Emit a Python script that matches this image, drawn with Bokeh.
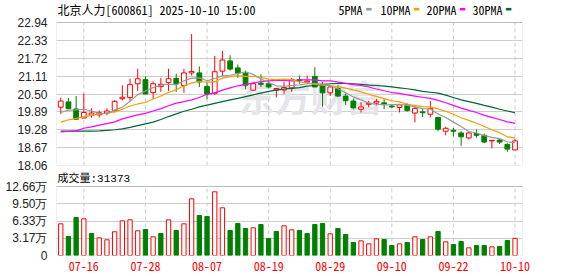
from bokeh.plotting import figure
from bokeh.models import (ColumnDataSource, FixedTicker, Label, Range1d, NumeralTickFormatter,
                          CustomJSTickFormatter, BoxAnnotation)
from bokeh.layouts import column
from bokeh.embed import file_html
from bokeh.resources import INLINE

# ---------------- data ----------------
dates = ["07-11", "07-14", "07-15", "07-16", "07-17", "07-18", "07-21", "07-22", "07-23", "07-24",
         "07-25", "07-28", "07-29", "07-30", "07-31", "08-01", "08-04", "08-05", "08-06", "08-07",
         "08-08", "08-11", "08-12", "08-13", "08-14", "08-15", "08-18", "08-19", "08-20", "08-21",
         "08-22", "08-25", "08-26", "08-27", "08-28", "08-29", "09-01", "09-02", "09-03", "09-04",
         "09-05", "09-08", "09-09", "09-10", "09-11", "09-12", "09-15", "09-16", "09-17", "09-18",
         "09-19", "09-22", "09-23", "09-24", "09-25", "09-26", "09-29", "09-30", "10-09", "10-10"]

opens = [20.05, 20.23, 19.99, 19.68, 19.78, 19.79, 19.85, 19.94, 20.34, 20.38,
         20.85, 20.99, 20.55, 20.75, 20.89, 21.03, 20.79, 21.22, 21.22, 20.76,
         20.52, 21.28, 21.63, 21.39, 21.21, 20.63, 20.87, 20.85, 20.64, 20.64,
         20.71, 20.99, 20.91, 21.10, 20.83, 20.54, 20.69, 20.43, 20.26, 19.98,
         20.15, 20.19, 20.20, 20.09, 20.04, 20.13, 19.85, 19.89, 19.81, 19.70,
         19.23, 19.26, 19.17, 19.00, 19.15, 19.09, 18.90, 18.93, 18.78, 18.59]
highs = [20.38, 20.36, 20.43, 20.52, 20.01, 19.94, 20.01, 20.29, 20.80, 21.02,
         21.36, 21.10, 20.93, 21.05, 21.36, 21.19, 21.36, 22.55, 21.44, 20.91,
         21.80, 21.97, 21.82, 21.51, 21.30, 20.91, 21.17, 20.94, 20.70, 20.92,
         21.05, 21.13, 21.13, 21.41, 20.91, 20.80, 20.80, 20.52, 20.35, 20.22,
         20.27, 20.34, 20.34, 20.14, 20.13, 20.18, 20.09, 20.01, 20.26, 19.73,
         19.38, 19.34, 19.23, 19.20, 19.29, 19.15, 18.92, 18.97, 18.82, 18.97]
lows = [19.82, 20.00, 19.62, 19.68, 19.69, 19.70, 19.77, 19.87, 20.28, 20.26,
        20.60, 20.50, 20.33, 20.57, 20.60, 20.57, 20.54, 21.13, 20.74, 20.32,
        20.47, 21.10, 21.30, 21.05, 20.66, 20.60, 20.74, 20.69, 20.38, 20.50,
        20.57, 20.85, 20.85, 20.74, 20.07, 20.43, 20.40, 20.13, 19.98, 19.87,
        20.05, 20.11, 19.98, 20.03, 19.87, 19.90, 19.53, 19.71, 19.70, 19.23,
        19.09, 19.06, 18.73, 18.95, 19.01, 18.82, 18.64, 18.79, 18.53, 18.59]
closes = [20.26, 20.00, 19.64, 19.87, 19.85, 19.86, 19.92, 20.25, 20.39, 20.82,
          21.02, 20.50, 20.85, 20.83, 21.02, 20.85, 21.22, 21.27, 20.91, 20.50,
          21.26, 21.66, 21.35, 21.21, 20.80, 20.85, 20.83, 20.74, 20.69, 20.72,
          20.99, 20.95, 20.94, 20.74, 20.54, 20.74, 20.43, 20.27, 20.03, 20.06,
          20.18, 20.25, 20.16, 20.06, 20.13, 19.94, 20.01, 19.86, 20.01, 19.30,
          19.33, 19.23, 19.04, 19.17, 19.09, 18.86, 18.92, 18.86, 18.62, 18.90]
# volume in 万 (10k shares)
volumes = [5.81, 3.49, 6.98, 6.73, 4.04, 3.24, 2.88, 4.35, 6.36, 6.55,
           4.53, 4.77, 3.43, 4.04, 6.55, 4.59, 5.81, 10.40, 7.34, 7.16,
           11.69, 8.75, 4.59, 5.88, 4.96, 5.08, 5.69, 3.12, 4.41, 5.45,
           4.71, 4.59, 4.04, 5.69, 5.88, 3.98, 4.96, 3.86, 2.39, 2.69,
           2.14, 3.06, 2.94, 1.84, 2.14, 2.39, 3.43, 2.94, 3.43, 4.41,
           2.51, 2.02, 2.57, 1.41, 1.84, 1.84, 1.59, 1.65, 2.75, 3.14]
ma5 = [19.87, 19.95, 19.96, 19.98, 19.92, 19.84, 19.83, 19.95, 20.05, 20.25,
       20.48, 20.60, 20.72, 20.80, 20.84, 20.81, 20.95, 21.04, 21.05, 20.95,
       21.03, 21.12, 21.14, 21.20, 21.26, 21.17, 21.01, 20.89, 20.78, 20.77,
       20.79, 20.81, 20.85, 20.86, 20.83, 20.78, 20.68, 20.54, 20.40, 20.30,
       20.19, 20.15, 20.13, 20.14, 20.15, 20.11, 20.06, 20.00, 19.99, 19.82,
       19.70, 19.54, 19.39, 19.22, 19.17, 19.08, 19.02, 18.98, 18.87, 18.83]
ma10 = [19.54, 19.62, 19.67, 19.73, 19.77, 19.82, 19.85, 19.89, 19.98, 20.09,
        20.16, 20.21, 20.33, 20.43, 20.55, 20.65, 20.78, 20.88, 20.93, 20.90,
        20.92, 21.04, 21.09, 21.13, 21.10, 21.10, 21.07, 21.01, 20.99, 21.01,
        20.99, 20.91, 20.88, 20.83, 20.80, 20.79, 20.75, 20.70, 20.64, 20.57,
        20.49, 20.42, 20.34, 20.27, 20.23, 20.15, 20.11, 20.07, 20.06, 19.99,
        19.91, 19.81, 19.69, 19.60, 19.50, 19.39, 19.28, 19.18, 19.04, 19.00]
ma20 = [19.21, 19.22, 19.24, 19.33, 19.38, 19.44, 19.49, 19.55, 19.65, 19.72,
        19.79, 19.84, 19.92, 20.00, 20.10, 20.19, 20.24, 20.30, 20.38, 20.49,
        20.54, 20.63, 20.71, 20.78, 20.83, 20.87, 20.92, 20.95, 20.96, 20.96,
        20.95, 20.98, 20.98, 20.98, 20.95, 20.95, 20.91, 20.86, 20.82, 20.79,
        20.74, 20.67, 20.61, 20.55, 20.52, 20.47, 20.43, 20.39, 20.35, 20.28,
        20.20, 20.11, 20.02, 19.94, 19.87, 19.77, 19.70, 19.63, 19.55, 19.50]
ma30 = [19.23, 19.23, 19.23, 19.23, 19.23, 19.24, 19.26, 19.28, 19.31, 19.36,
        19.42, 19.48, 19.54, 19.63, 19.73, 19.82, 19.91, 19.98, 20.06, 20.12,
        20.18, 20.24, 20.30, 20.35, 20.41, 20.47, 20.53, 20.59, 20.63, 20.67,
        20.69, 20.72, 20.77, 20.79, 20.82, 20.85, 20.86, 20.86, 20.85, 20.83,
        20.80, 20.79, 20.77, 20.74, 20.71, 20.68, 20.64, 20.59, 20.56, 20.53,
        20.46, 20.38, 20.30, 20.24, 20.18, 20.11, 20.05, 19.98, 19.92, 19.86]

price_ticks = [18.06, 18.67, 19.28, 19.89, 20.50, 21.11, 21.72, 22.33, 22.94]
volume_ticks = [0, 3.17, 6.33, 9.50, 12.66]
date_tick_labels = ["07-16", "07-28", "08-07", "08-19", "08-29", "09-10", "09-22", "10-10"]
ma_names = ["5PMA", "10PMA", "20PMA", "30PMA"]
title_text = "北京人力[600861] 2025-10-10 15:00"
volume_title = "成交量:31373"
watermark = "东方财富"

# ---------------- styles / layout ----------------
RED = "#ff0000"
GREEN = "#008000"
MA_COLORS = ["#999999", "#f0a000", "#ff00ff", "#006633"]
GRID = "#cccccc"
BORDER = "#999999"
MONO = "Noto Sans Mono CJK SC, Liberation Mono, monospace"
MONO_LM = "Liberation Mono, Noto Sans Mono CJK SC, monospace"
W = 578
FL, FR = 56, 522          # frame left / right (canvas px)
P_TOP_PAD, P_BOX_H, P_BOT = 22, 143, 7    # header space above price box, box height, bottom border
V_TOP_PAD, V_BOX_H, V_BOT = 14, 69, 21    # space above volume box, box height, bottom border
P_H = P_TOP_PAD + P_BOX_H + P_BOT          # 172
V_H = 276 - P_H                            # 104

n = len(dates)
xs = list(range(n))
up = [c >= o for o, c in zip(opens, closes)]
src = ColumnDataSource(dict(
    x=xs, high=highs, low=lows,
    top=[max(o, c) for o, c in zip(opens, closes)],
    bottom=[min(o, c) for o, c in zip(opens, closes)],
    color=[RED if u else GREEN for u in up],
    fill=["#ffffff" if u else GREEN for u in up],
))
vol_up = [up[0]] + [closes[i] >= closes[i - 1] for i in range(1, n)]
vsrc = ColumnDataSource(dict(
    x=xs, vol=volumes,
    color=[RED if u else GREEN for u in vol_up],
    fill=["#ffffff" if u else GREEN for u in vol_up],
))
tick_idx = [dates.index(d) for d in date_tick_labels]
x_range = Range1d(-0.55, 59.97)

p_lo, p_hi = price_ticks[0], price_ticks[-1]
p_end = p_hi + P_TOP_PAD * (p_hi - p_lo) / P_BOX_H    # frame extends up over the header strip
v_lo, v_hi = volume_ticks[0], volume_ticks[-1]
v_end = v_hi + V_TOP_PAD * (v_hi - v_lo) / V_BOX_H


def style_axis(ax):
    ax.axis_line_color = None
    ax.major_tick_line_color = None
    ax.minor_tick_line_color = None


# ---------------- price panel (header strip lives in the top of its frame) ----------------
p = figure(width=W, height=P_H, x_range=x_range, y_range=Range1d(p_lo, p_end),
           output_backend="svg", toolbar_location=None, title=None, x_axis_location=None,
           min_border_left=FL, min_border_right=W - FR, min_border_top=0, min_border_bottom=P_BOT,
           outline_line_color=None)
p.yaxis.ticker = FixedTicker(ticks=price_ticks)
p.yaxis.formatter = NumeralTickFormatter(format="0.00")
style_axis(p.yaxis)
p.yaxis.major_label_standoff = 3
p.yaxis.major_label_text_font = "Liberation Sans"
p.yaxis.major_label_text_font_size = "12px"
p.yaxis.major_label_text_color = "#222222"
p.ygrid.grid_line_color = GRID
p.xgrid.visible = False

p.add_layout(Label(x=182, y=70, x_units="screen", y_units="screen", text=watermark,
                   text_font="Noto Sans CJK SC", text_font_size="36px", text_font_style="bold",
                   text_color="#e4e4ea", text_baseline="middle", level="underlay"))
# dashed vertical date grid, limited to the price box
p.segment(x0=tick_idx, y0=[p_lo] * len(tick_idx), x1=tick_idx, y1=[p_hi] * len(tick_idx),
          line_color=GRID, line_dash="4 3", line_width=1)

p.segment(x0="x", y0="low", x1="x", y1="high", line_color="color", line_width=1, source=src)
p.vbar(x="x", width=0.62, top="top", bottom="bottom", fill_color="fill", line_color="color",
       line_width=1, source=src)
for ma, col in zip([ma30, ma20, ma10, ma5], MA_COLORS[::-1]):
    p.line(xs, ma, line_color=col, line_width=1.2)

p.add_layout(BoxAnnotation(bottom=p_lo, top=p_hi, fill_color=None, fill_alpha=0,
                           line_color=BORDER, line_width=1, level="overlay"))

# header: title + MA legend (frame-relative screen px, y measured up from the box bottom)
hdr_y = P_BOX_H + P_TOP_PAD - 8.7
p.add_layout(Label(x=1, y=hdr_y, x_units="screen", y_units="screen", text=title_text,
                   text_font=MONO, text_font_size="12px", text_color="#000000",
                   text_baseline="middle"))
for lbl, tx, sx, col in zip(ma_names, [282, 324, 370, 416], [312.3, 360, 406, 452], MA_COLORS):
    p.add_layout(Label(x=tx, y=hdr_y, x_units="screen", y_units="screen", text=lbl,
                       text_font=MONO, text_font_size="12px", text_color="#000000",
                       text_baseline="middle"))
    p.add_layout(Label(x=sx, y=hdr_y, x_units="screen", y_units="screen", text="▬",
                       text_font="DejaVu Sans", text_font_size="7px", text_color=col,
                       text_baseline="middle", text_align="center"))

# ---------------- volume panel ----------------
v = figure(width=W, height=V_H, x_range=x_range, y_range=Range1d(v_lo, v_end),
           output_backend="svg", toolbar_location=None, title=None,
           min_border_left=FL, min_border_right=W - FR, min_border_top=0, min_border_bottom=V_BOT,
           outline_line_color=None)
v.yaxis.ticker = FixedTicker(ticks=volume_ticks)
v.yaxis.formatter = CustomJSTickFormatter(code="return tick == 0 ? '0' : tick.toFixed(2) + '万';")
style_axis(v.yaxis)
v.yaxis.major_label_standoff = 3
v.yaxis.major_label_text_font = "Liberation Sans"
v.yaxis.major_label_text_font_size = "12px"
v.yaxis.major_label_text_color = "#222222"
v.xaxis.ticker = FixedTicker(ticks=tick_idx)
v.xaxis.major_label_overrides = {i: dates[i] for i in tick_idx}
style_axis(v.xaxis)
v.xaxis.major_label_standoff = 0
v.xaxis.major_label_text_font = MONO
v.xaxis.major_label_text_font_size = "12px"
v.xaxis.major_label_text_color = RED
v.ygrid.grid_line_color = GRID
v.xgrid.visible = False

v.segment(x0=tick_idx, y0=[v_lo] * len(tick_idx), x1=tick_idx, y1=[v_hi] * len(tick_idx),
          line_color=GRID, line_dash="4 3", line_width=1)
v.vbar(x="x", width=0.56, top="vol", bottom=0, fill_color="fill", line_color="color",
       line_width=1, source=vsrc)
v.add_layout(BoxAnnotation(bottom=v_lo, top=v_hi, fill_color=None, fill_alpha=0,
                           line_color=BORDER, line_width=1, level="overlay"))
v.add_layout(Label(x=1, y=V_BOX_H + V_TOP_PAD - 6.2, x_units="screen", y_units="screen",
                   text=volume_title, text_font=MONO_LM, text_font_size="11px",
                   text_color="#000000", text_baseline="middle"))

layout = column(p, v, spacing=0)
open("out.html", "w").write(file_html(layout, INLINE, title="600861"))
